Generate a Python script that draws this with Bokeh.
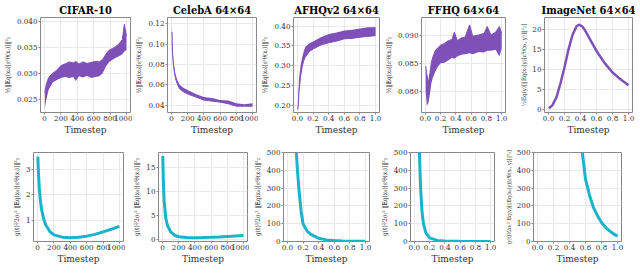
from bokeh.plotting import figure
from bokeh.layouts import column, row
from bokeh.models import Range1d, FixedTicker, NumeralTickFormatter
from bokeh.embed import file_html
from bokeh.resources import INLINE

titles = ["CIFAR-10", "CelebA 64×64", "AFHQv2 64×64", "FFHQ 64×64", "ImageNet 64×64"]
x_label = "Timestep"

# ---------- Row 1: noisy norms (band envelopes) ----------
cifar_t  = [3, 20, 50, 100, 150, 200, 250, 300, 350, 380, 420, 470, 520, 570, 620, 670, 710, 750, 790, 830, 870, 910, 950, 975, 1000]
cifar_lo = [0.0232, 0.0248, 0.0268, 0.0282, 0.0287, 0.0291, 0.0293, 0.0291, 0.0293, 0.0285, 0.0294, 0.0292, 0.0295, 0.0291, 0.0293, 0.0294, 0.0300, 0.0313, 0.0322, 0.0326, 0.0330, 0.0333, 0.0337, 0.0342, 0.0345]
cifar_hi = [0.0262, 0.0278, 0.0292, 0.0300, 0.0306, 0.0315, 0.0318, 0.0322, 0.0320, 0.0323, 0.0318, 0.0322, 0.0319, 0.0321, 0.0323, 0.0322, 0.0327, 0.0337, 0.0345, 0.0348, 0.0352, 0.0357, 0.0365, 0.0395, 0.0372]

celeba_t  = [5, 10, 20, 35, 50, 75, 100, 150, 200, 300, 400, 500, 600, 700, 800, 900, 1000]
celeba_lo = [0.112, 0.095, 0.082, 0.072, 0.066, 0.060, 0.056, 0.053, 0.051, 0.048, 0.045, 0.044, 0.043, 0.0415, 0.039, 0.039, 0.039]
celeba_hi = [0.119, 0.105, 0.088, 0.077, 0.070, 0.064, 0.060, 0.057, 0.055, 0.051, 0.048, 0.047, 0.045, 0.0445, 0.042, 0.041, 0.042]

afhq_t  = [0.005, 0.01, 0.02, 0.04, 0.06, 0.08, 0.10, 0.15, 0.20, 0.30, 0.40, 0.50, 0.60, 0.70, 0.80, 0.90, 1.00]
afhq_lo = [0.188, 0.198, 0.232, 0.272, 0.296, 0.312, 0.321, 0.335, 0.342, 0.352, 0.358, 0.362, 0.368, 0.369, 0.372, 0.374, 0.376]
afhq_hi = [0.195, 0.215, 0.266, 0.300, 0.320, 0.336, 0.347, 0.356, 0.361, 0.372, 0.380, 0.384, 0.389, 0.391, 0.394, 0.397, 0.397]

ffhq_t  = [0.005, 0.02, 0.04, 0.06, 0.08, 0.10, 0.13, 0.16, 0.20, 0.25, 0.30, 0.35, 0.38, 0.42, 0.47, 0.52, 0.58, 0.62, 0.70, 0.77, 0.81, 0.86, 0.92, 0.97, 1.00]
ffhq_lo = [0.0800, 0.0775, 0.0780, 0.0795, 0.0815, 0.0825, 0.0835, 0.0843, 0.0850, 0.0851, 0.0855, 0.0860, 0.0858, 0.0862, 0.0865, 0.0866, 0.0868, 0.0866, 0.0870, 0.0869, 0.0872, 0.0872, 0.0874, 0.0862, 0.0876]
ffhq_hi = [0.0845, 0.0830, 0.0815, 0.0832, 0.0852, 0.0862, 0.0872, 0.0877, 0.0882, 0.0885, 0.0890, 0.0892, 0.0905, 0.0890, 0.0895, 0.0896, 0.0918, 0.0898, 0.0900, 0.0903, 0.0915, 0.0900, 0.0905, 0.0915, 0.0903]

imnet_t = [0.005, 0.05, 0.10, 0.15, 0.20, 0.25, 0.30, 0.35, 0.38, 0.42, 0.45, 0.50, 0.60, 0.70, 0.80, 0.90, 1.00]
imnet_v = [0.2, 1.0, 3.0, 6.5, 10.5, 15.0, 18.6, 20.8, 21.2, 20.8, 20.0, 18.2, 14.6, 11.6, 9.2, 7.5, 6.0]

# ---------- Row 2: weighted norms ----------
cifar2_t = [3, 10, 20, 35, 50, 75, 100, 150, 200, 300, 400, 500, 600, 700, 800, 900, 1000]
cifar2_v = [3.50, 2.90, 2.30, 1.75, 1.40, 1.05, 0.82, 0.56, 0.43, 0.34, 0.32, 0.34, 0.38, 0.45, 0.55, 0.65, 0.76]

celeba2_t = [3, 10, 20, 40, 60, 100, 150, 200, 300, 400, 500, 600, 700, 800, 900, 1000]
celeba2_v = [17.5, 12.0, 8.0, 4.5, 3.0, 1.6, 0.9, 0.6, 0.42, 0.38, 0.42, 0.48, 0.56, 0.66, 0.76, 0.86]

afhq2_t = [0.05, 0.08, 0.10, 0.115, 0.12, 0.13, 0.15, 0.175, 0.20, 0.25, 0.30, 0.40, 0.50, 0.60, 0.70, 0.80, 1.00]
afhq2_v = [2000, 900, 620, 500, 460, 390, 280, 170, 100, 60, 40, 18, 9, 5, 3, 2, 1]

ffhq2_t = [0.03, 0.05, 0.067, 0.08, 0.10, 0.12, 0.15, 0.20, 0.30, 0.40, 0.60, 1.00]
ffhq2_v = [2500, 900, 500, 320, 170, 100, 50, 20, 6, 3, 1, 0.5]

imnet2_t = [0.40, 0.50, 0.56, 0.60, 0.65, 0.70, 0.75, 0.80, 0.85, 0.90, 0.95, 1.00]
imnet2_v = [2000, 800, 500, 350, 260, 190, 145, 107, 80, 60, 43, 30]

# tick values / labels
ticks_1000 = [0, 200, 400, 600, 800, 1000]
ticks_unit = [0.0, 0.2, 0.4, 0.6, 0.8, 1.0]
r1_yticks = [[0.025, 0.030, 0.035, 0.040], [0.04, 0.06, 0.08, 0.10, 0.12],
             [0.20, 0.25, 0.30, 0.35, 0.40], [0.080, 0.085, 0.090], [0, 5, 10, 15, 20]]
r2_yticks = [[1, 2, 3], [0, 5, 10, 15], [0, 100, 200, 300, 400, 500],
             [0, 100, 200, 300, 400, 500], [0, 100, 200, 300, 400, 500]]

lab1 = "½‖𝔼q(x₀)[εᶠθ(xₜ)]‖²₂"
lab1_im = "½𝔼q(y)[‖𝔼q(x₀|y)[εᶠθ(xₜ, y)]‖²₂]"
lab2 = "g(t)²⁄2σₜ² ‖𝔼q(x₀)[εᶠθ(xₜ)]‖²₂"
lab2_im = "g(t)²⁄2σₜ² 𝔼q(y)[‖𝔼q(x₀|y)[εᶠθ(xₜ, y)]‖²₂]"

PURPLE = "#7f51b8"
CYAN = "#1ab3ca"
TITLE_FONT = "DejaVu Serif Condensed"
TICK_FONT = "DejaVu Serif Condensed"
XLAB_FONT = "DejaVu Serif"
YLAB_FONT = "DejaVu Serif Condensed"

# layout geometry (px)
frame_w = [90, 89, 86, 84, 88]
left_b = [33, 33, 34, 39, 37]
right_b = [2, 2, 2, 2, 3]


def make_fig(col, rowi, xr, yr, xticks, yticks, xfmt, yfmt, ylabel, title=None, ysize="6.5px"):
    if rowi == 0:
        fh, tb, bb = 95, 13, 23
    else:
        fh, tb, bb = 89, 15, 22
    p = figure(frame_width=frame_w[col], frame_height=fh,
               min_border_left=left_b[col], min_border_right=right_b[col],
               min_border_top=tb, min_border_bottom=bb,
               x_range=Range1d(*xr), y_range=Range1d(*yr),
               output_backend="svg", toolbar_location=None, title=title)
    if title is not None:
        p.title.align = "center"
        p.title.text_font = TITLE_FONT
        p.title.text_font_size = "11px"
        p.title.text_font_style = "bold"
        p.title.text_color = "black"
        p.title.standoff = 2
        p.title.offset = 0
    p.outline_line_color = "#888888"
    p.outline_line_width = 1
    p.background_fill_color = "white"
    p.border_fill_color = "white"
    for ax, tk, fmt in ((p.xaxis[0], xticks, xfmt), (p.yaxis[0], yticks, yfmt)):
        ax.ticker = FixedTicker(ticks=tk)
        ax.formatter = NumeralTickFormatter(format=fmt)
        ax.axis_line_color = None
        ax.major_tick_in = 0
        ax.major_tick_out = 2
        ax.major_tick_line_color = "#888888"
        ax.minor_tick_line_color = None
        ax.major_label_text_font = TICK_FONT
        ax.major_label_text_font_size = "8px"
        ax.major_label_text_color = "#333333"
        ax.major_label_standoff = 1
        ax.axis_label_text_font_style = "normal"
        ax.axis_label_text_color = "#333333"
    p.xaxis.axis_label = x_label
    p.xaxis.axis_label_text_font = XLAB_FONT
    p.xaxis.axis_label_text_font_size = "9px"
    p.xaxis.axis_label_standoff = 1
    p.yaxis.axis_label = ylabel
    p.yaxis.axis_label_text_font = YLAB_FONT
    p.yaxis.axis_label_text_font_size = ysize
    p.yaxis.axis_label_standoff = 2
    p.grid.grid_line_color = "#e3e3e3"
    p.grid.grid_line_width = 0.8
    return p


TS = (-50, 1050)
UT = (-0.05, 1.05)

# Row 1
f11 = make_fig(0, 0, TS, (0.0224, 0.0408), ticks_1000, r1_yticks[0], "0", "0.000", lab1, titles[0])
f11.varea(x=cifar_t, y1=cifar_lo, y2=cifar_hi, color=PURPLE)
f11.line(cifar_t, cifar_hi, color=PURPLE, line_width=1)

f12 = make_fig(1, 0, TS, (0.0328, 0.1263), ticks_1000, r1_yticks[1], "0", "0.00", lab1, titles[1])
f12.varea(x=celeba_t, y1=celeba_lo, y2=celeba_hi, color=PURPLE)
f12.line(celeba_t, celeba_lo, color=PURPLE, line_width=1)

f13 = make_fig(2, 0, UT, (0.181, 0.422), ticks_unit, r1_yticks[2], "0.0", "0.00", lab1, titles[2])
f13.varea(x=afhq_t, y1=afhq_lo, y2=afhq_hi, color=PURPLE)
f13.line(afhq_t, afhq_lo, color=PURPLE, line_width=1)

f14 = make_fig(3, 0, UT, (0.0763, 0.0931), ticks_unit, r1_yticks[3], "0.0", "0.000", lab1, titles[3])
f14.varea(x=ffhq_t, y1=ffhq_lo, y2=ffhq_hi, color=PURPLE)
f14.line(ffhq_t, ffhq_hi, color=PURPLE, line_width=1)

f15 = make_fig(4, 0, UT, (-0.85, 23.0), ticks_unit, r1_yticks[4], "0.0", "0", lab1_im, titles[4], ysize="6px")
f15.line(imnet_t, imnet_v, color=PURPLE, line_width=2.5)

# Row 2
f21 = make_fig(0, 1, TS, (0.17, 3.66), ticks_1000, r2_yticks[0], "0", "0", lab2)
f21.line(cifar2_t, cifar2_v, color=CYAN, line_width=3)

f22 = make_fig(1, 1, TS, (-0.4, 18.2), ticks_1000, r2_yticks[1], "0", "0", lab2)
f22.line(celeba2_t, celeba2_v, color=CYAN, line_width=3)

f23 = make_fig(2, 1, UT, (0, 500), ticks_unit, r2_yticks[2], "0.0", "0", lab2)
f23.line(afhq2_t, afhq2_v, color=CYAN, line_width=3)

f24 = make_fig(3, 1, UT, (0, 500), ticks_unit, r2_yticks[3], "0.0", "0", lab2)
f24.line(ffhq2_t, ffhq2_v, color=CYAN, line_width=3)

f25 = make_fig(4, 1, UT, (0, 500), ticks_unit, r2_yticks[4], "0.0", "0", lab2_im, ysize="5.5px")
f25.line(imnet2_t, imnet2_v, color=CYAN, line_width=3)

layout = column(row(f11, f12, f13, f14, f15, spacing=0),
                row(f21, f22, f23, f24, f25, spacing=0), spacing=0)

open("out.html", "w").write(file_html(layout, INLINE))
